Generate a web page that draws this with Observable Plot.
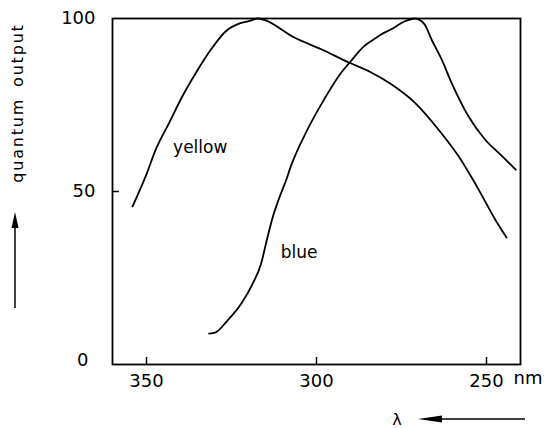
<!DOCTYPE html>
<html>
<head>
<meta charset="utf-8">
<script src="https://cdn.jsdelivr.net/npm/d3@7"></script>
<script src="https://cdn.jsdelivr.net/npm/@observablehq/plot@0.6"></script>
<style>
  html, body { margin: 0; padding: 0; background: #fff; }
  #chart { width: 546px; height: 428px; }
</style>
</head>
<body>
<div id="chart"></div>
<script>
// Wavelength (nm) and relative quantum output
const yellowLambda = [354.1, 350.2, 347.2, 343.3, 339.4, 335.4, 331, 326.6, 322.6, 319.7, 317.3, 315.4, 306.5, 298.6, 290.3, 283.9, 278, 271.1, 264.2, 258.3, 252.4, 247.5, 244.1];
const yellowValue  = [45.7, 54.5, 62.3, 69.9, 77.6, 84.4, 91.1, 96.4, 98.6, 99.3, 100, 99.6, 94.5, 91.1, 87.2, 84.4, 81, 75.7, 68, 60.3, 50.7, 42, 36.7];

const blueLambda = [331.6, 329.6, 326.2, 322.2, 318.8, 316.3, 314.9, 312.9, 310.9, 309, 307.5, 302.6, 297.7, 292.7, 290.3, 285.9, 283.9, 281, 278, 274, 271, 268.2, 266.2, 263.2, 260.3, 255.4, 250.5, 245.5, 241.4];
const blueValue  = [8.9, 9.3, 12.7, 17.5, 23.3, 29.1, 34.8, 42.5, 48.3, 53.1, 57.4, 68, 76.7, 84.4, 87.2, 92.1, 93.5, 95.4, 96.9, 99.2, 100, 98.3, 94, 88.2, 81.5, 71.9, 65.1, 60.3, 56.3];

const xTicks = [350, 300, 250];
const yTicks = [0, 50, 100];

const curveLabels = [
  {name: "yellow", lambda: 334.2, value: 62.6},
  {name: "blue", lambda: 305.1, value: 32.4}
];

const yTitle = "quantum output";
const xTitle = "λ";
const xUnit = "nm";

const yellow = yellowLambda.map((l, i) => ({lambda: l, value: yellowValue[i]}));
const blue = blueLambda.map((l, i) => ({lambda: l, value: blueValue[i]}));

const font = "DejaVu Sans";

// axis titles with their arrows
function titles(index, scales, values, dim) {
  const g = d3.create("svg:g").attr("font-family", font).attr("fill", "#000");
  const upX = dim.marginLeft - 97;
  g.append("text")
    .attr("transform", `translate(${upX + 2},103) rotate(-90)`)
    .attr("text-anchor", "middle").attr("dy", "0.35em")
    .attr("font-size", 16)
    .style("letter-spacing", "1.8px").style("word-spacing", "4px")
    .text(yTitle);
  g.append("line").attr("x1", upX).attr("x2", upX).attr("y1", 308).attr("y2", 222)
    .attr("stroke", "#000").attr("stroke-width", 1.5);
  g.append("path").attr("d", `M${upX},212L${upX - 3.5},228L${upX + 3.5},228Z`).attr("fill", "#000");
  const ly = dim.height - 9;
  g.append("text").attr("x", 397).attr("y", ly).attr("dy", "0.35em")
    .attr("text-anchor", "middle").attr("font-size", 16).text(xTitle);
  g.append("line").attr("x1", 430).attr("x2", 525).attr("y1", ly).attr("y2", ly)
    .attr("stroke", "#000").attr("stroke-width", 1.5);
  g.append("path").attr("d", `M418,${ly}L442,${ly - 3.5}L442,${ly + 3.5}Z`).attr("fill", "#000");
  return g.node();
}

const chart = Plot.plot({
  width: 546,
  height: 428,
  marginTop: 18,
  marginRight: 26,
  marginBottom: 64,
  marginLeft: 112,
  style: {fontFamily: font, color: "#000", background: "#fff"},
  x: {domain: [360, 240], axis: null},
  y: {domain: [0, 100], axis: null},
  marks: [
    Plot.frame({stroke: "#000", strokeWidth: 1.8}),
    // inward tick marks
    Plot.ruleX(xTicks, {stroke: "#000", strokeWidth: 1.5, insetTop: 346 - 7}),
    Plot.ruleY([50], {stroke: "#000", strokeWidth: 1.5, insetRight: 408 - 7}),
    // tick labels
    Plot.axisX({ticks: xTicks, tickSize: 0, tickPadding: 10, fontSize: 18, label: null}),
    Plot.axisY({ticks: [50, 100], tickSize: 0, tickPadding: 17, fontSize: 18, label: null}),
    Plot.axisY({ticks: [0], tickSize: 0, tickPadding: 24, fontSize: 18, label: null, dy: -4}),
    Plot.text([xUnit], {frameAnchor: "bottom-right", textAnchor: "start", dx: -7, dy: 19, fontSize: 18}),
    titles,
    // curves
    Plot.line(yellow, {x: "lambda", y: "value", stroke: "#000", strokeWidth: 1.8, curve: "monotone-x"}),
    Plot.line(blue, {x: "lambda", y: "value", stroke: "#000", strokeWidth: 1.8, curve: "monotone-x"}),
    Plot.text(curveLabels, {x: "lambda", y: "value", text: "name", fontSize: 17, fill: "#000"})
  ]
});

document.getElementById("chart").appendChild(chart);
</script>
</body>
</html>
